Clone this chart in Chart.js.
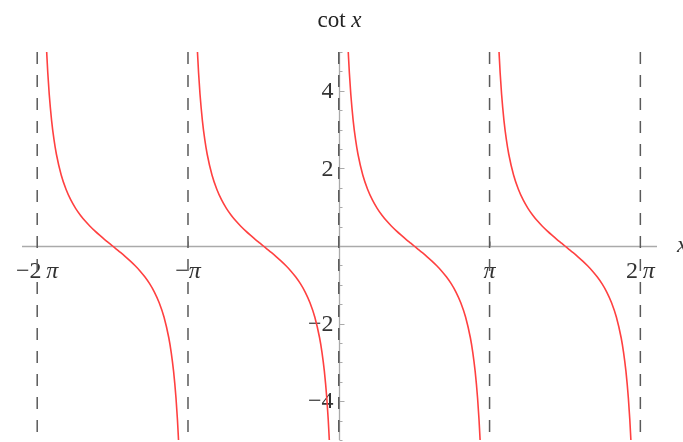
<!DOCTYPE html>
<html>
<head>
<meta charset="utf-8">
<title>cot x</title>
<script src="https://cdn.jsdelivr.net/npm/chart.js@4/dist/chart.umd.min.js"></script>
<style>
  html, body { margin: 0; padding: 0; background: #fff; }
  #grafico { display: block; }
</style>
</head>
<body>
<canvas id="grafico" width="683" height="442"></canvas>
<script>
// asymptotes of cot x, at multiples of pi
const assintotas = [-6.2832, -3.1416, 0, 3.1416, 6.2832];

// one branch of the curve: offset from the asymptote on its left, and cot value
const ramoX = [0.197, 0.22, 0.25, 0.3, 0.35, 0.4, 0.5, 0.6, 0.7, 0.8, 0.9, 1.0, 1.1, 1.2, 1.3, 1.4, 1.5, 1.5708,
    1.6416, 1.7416, 1.8416, 1.9416, 2.0416, 2.1416, 2.2416, 2.3416, 2.4416, 2.5416, 2.6416, 2.7416, 2.7916, 2.8416, 2.8916, 2.9216, 2.9446];
const ramoY = [5.01, 4.472, 3.916, 3.233, 2.740, 2.365, 1.830, 1.462, 1.187, 0.971, 0.794, 0.642, 0.509, 0.389, 0.278, 0.172, 0.071, 0,
    -0.071, -0.172, -0.278, -0.389, -0.509, -0.642, -0.794, -0.971, -1.187, -1.462, -1.830, -2.365, -2.740, -3.233, -3.916, -4.472, -5.01];

// branches start at these asymptotes
const iniciosRamos = [-6.2832, -3.1416, 0, 3.1416];

const ticksX = [-6.2832, -3.1416, 3.1416, 6.2832];
const rotulosX = [["\u22122\u2009", "\u03c0"], ["\u2212", "\u03c0"], ["", "\u03c0"], ["2\u2009", "\u03c0"]];
const ticksY = [-4, -2, 2, 4];
const rotulosY = ["\u22124", "\u22122", "2", "4"];

const fonte = '"Liberation Serif", "DejaVu Serif", serif';

let datasets = [];

assintotas.forEach(function (a) {
    datasets.push({
        data: [{ x: a, y: 5 }, { x: a, y: -5 }],
        showLine: true,
        borderColor: "#5a5a5a",
        borderWidth: 1.5,
        borderDash: [12, 11],
        pointRadius: 0
    });
});

iniciosRamos.forEach(function (inicio) {
    let pontos = [];
    for (let i = 0; i < ramoX.length; i++) {
        pontos.push({ x: inicio + ramoX[i], y: ramoY[i] });
    }
    datasets.push({
        data: pontos,
        showLine: true,
        borderColor: "#ff4040",
        borderWidth: 1.6,
        pointRadius: 0,
        cubicInterpolationMode: "monotone"
    });
});

// axes through the origin, ticks, tick labels and title
const eixos = {
    id: "eixos",
    beforeDatasetsDraw(chart) {
        const ctx = chart.ctx;
        const sx = chart.scales.x;
        const sy = chart.scales.y;
        const area = chart.chartArea;
        const x0 = Math.round(sx.getPixelForValue(0)) + 0.5;
        const y0 = Math.round(sy.getPixelForValue(0)) + 0.5;

        ctx.save();
        ctx.strokeStyle = "#aaaaaa";
        ctx.lineWidth = 1.3;
        ctx.beginPath();
        ctx.moveTo(area.left, y0);
        ctx.lineTo(area.right, y0);
        ctx.moveTo(x0, area.top);
        ctx.lineTo(x0, area.bottom);
        ctx.stroke();

        // y ticks: major every 2, minor every 0.5
        ctx.lineWidth = 1;
        ctx.beginPath();
        for (let v = -5; v <= 5; v += 0.5) {
            if (v === 0) continue;
            const py = Math.round(sy.getPixelForValue(v)) + 0.5;
            const len = (v % 2 === 0) ? 5 : 3;
            ctx.moveTo(x0, py);
            ctx.lineTo(x0 + len, py);
        }
        ticksX.forEach(function (t) {
            const px = Math.round(sx.getPixelForValue(t)) + 0.5;
            ctx.moveTo(px, y0);
            ctx.lineTo(px, y0 - 5);
        });
        ctx.stroke();

        // x tick labels, pi in italic
        ctx.fillStyle = "#333333";
        ctx.textBaseline = "middle";
        ticksX.forEach(function (t, i) {
            const px = sx.getPixelForValue(t);
            ctx.font = "24px " + fonte;
            const w1 = ctx.measureText(rotulosX[i][0]).width;
            ctx.font = "italic 24px " + fonte;
            const w2 = ctx.measureText(rotulosX[i][1]).width;
            let inicio = px - (w1 + w2) / 2;
            ctx.textAlign = "left";
            ctx.font = "24px " + fonte;
            ctx.fillText(rotulosX[i][0], inicio, y0 + 25);
            ctx.font = "italic 24px " + fonte;
            ctx.fillText(rotulosX[i][1], inicio + w1, y0 + 25);
        });

        // y tick labels
        ctx.font = "24px " + fonte;
        ctx.textAlign = "right";
        ticksY.forEach(function (t, i) {
            ctx.fillText(rotulosY[i], x0 - 6, sy.getPixelForValue(t) + 1);
        });

        // axis name at the right end, partly past the edge
        ctx.textAlign = "left";
        ctx.font = "italic 24px " + fonte;
        ctx.fillText("x", area.right + 20, y0 - 1);

        // title
        ctx.fillStyle = "#222222";
        ctx.font = "23px " + fonte;
        const wc = ctx.measureText("cot ").width;
        ctx.font = "italic 23px " + fonte;
        const wx = ctx.measureText("x").width;
        const tx = x0 - (wc + wx) / 2;
        ctx.font = "23px " + fonte;
        ctx.fillText("cot ", tx, 21);
        ctx.font = "italic 23px " + fonte;
        ctx.fillText("x", tx + wc, 21);
        ctx.restore();
    }
};

new Chart(document.getElementById("grafico"), {
    type: "scatter",
    data: { datasets: datasets },
    options: {
        responsive: false,
        animation: false,
        devicePixelRatio: 1,
        layout: { padding: { left: 22, right: 26, top: 52, bottom: 2 } },
        plugins: {
            legend: { display: false },
            tooltip: { enabled: false }
        },
        scales: {
            x: { type: "linear", min: -6.6, max: 6.63, display: false },
            y: { type: "linear", min: -5, max: 5, display: false }
        }
    },
    plugins: [eixos]
});
</script>
</body>
</html>
